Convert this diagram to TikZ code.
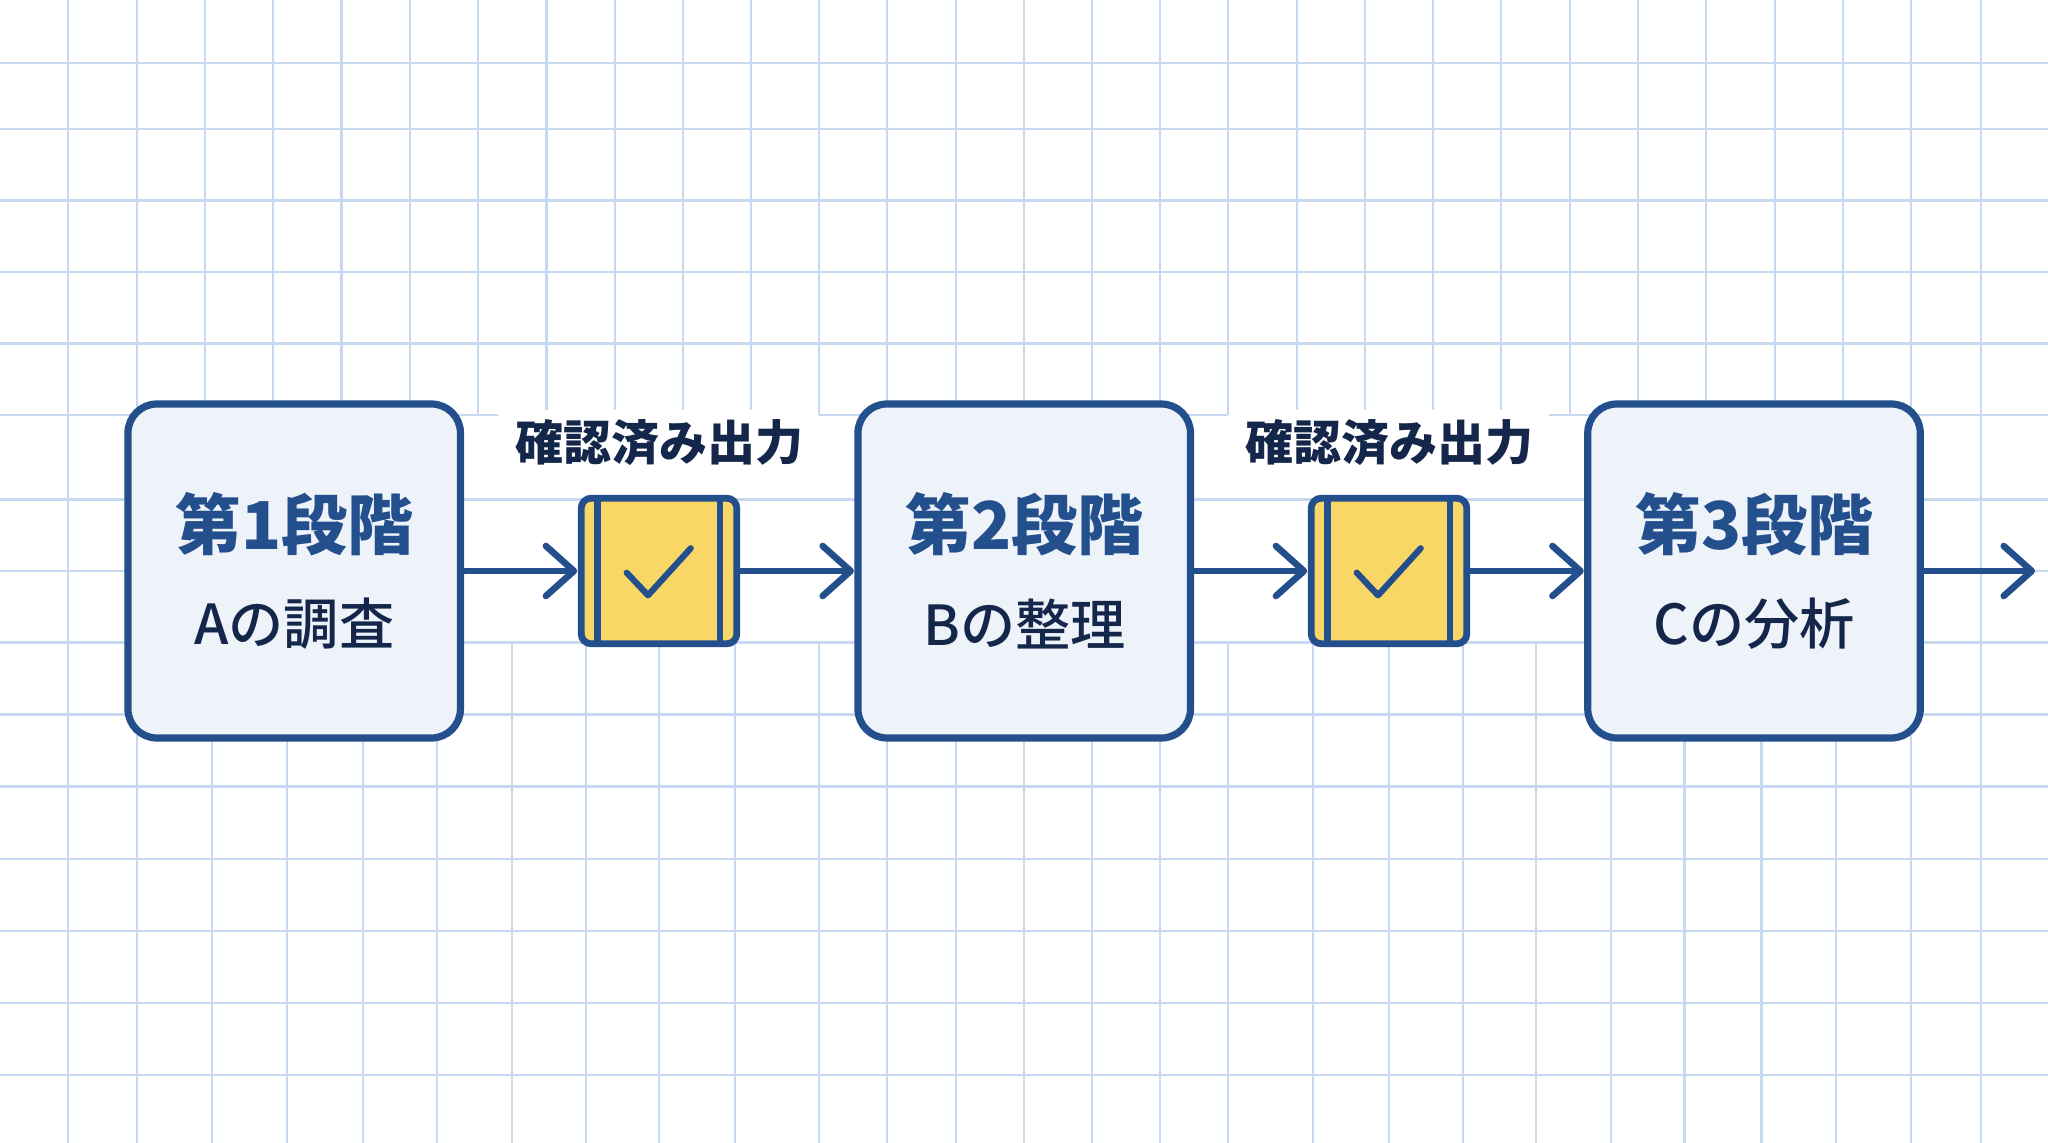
\documentclass[tikz,border=0pt]{standalone}
\usepackage{fontspec}
\newfontfamily\jp{Noto Sans CJK JP}
\newfontfamily\jpm{Noto Sans CJK JP Medium}
\usetikzlibrary{arrows.meta,calc}
\definecolor{gridc}{HTML}{C6D9F0}
\definecolor{navy}{HTML}{234F8C}
\definecolor{ink}{HTML}{14274A}
\definecolor{panel}{HTML}{EEF3FA}
\definecolor{gold}{HTML}{F9D766}
\tikzset{
  gridv/.style={draw=gridc,line width=1.1pt},
  gridh/.style={draw=gridc,line width=1.4pt},
  stage/.style={draw=navy,fill=panel,line width=3.6pt,rectangle,rounded corners=14.5pt,
    minimum width=166.25pt,minimum height=167pt,inner sep=0pt,outer sep=0pt},
  gate/.style={draw=navy,fill=gold,line width=3.4pt,rectangle,rounded corners=5pt,
    minimum width=77.8pt,minimum height=72.8pt,inner sep=0pt,outer sep=0pt},
  gatebar/.style={draw=navy,line width=3.3pt},
  tick/.style={draw=navy,line width=3.1pt,line cap=round,line join=round},
  titletext/.style={text=navy,inner sep=0pt,font=\jp\bfseries\fontsize{33pt}{36pt}\selectfont},
  subtext/.style={text=ink,inner sep=0pt,font=\jpm\fontsize{27.6pt}{30pt}\selectfont},
  gatetext/.style={text=ink,inner sep=0pt,font=\jp\bfseries\fontsize{24pt}{27pt}\selectfont},
  flow/.style={draw=navy,line width=3.3pt,line cap=round,
    -{Straight Barb[length=14pt,width=25pt,round,line width=3.3pt]}},
}
\begin{document}
\begin{tikzpicture}[x=0.5pt,y=-0.5pt]
\useasboundingbox[fill=white] (0,0) rectangle (2048,1143);
% grid: horizontal rules
\foreach \yy in {63,129,200.7,272,343.7,499.3,642.7,714.5,786.7,859,931,1003,1075}
  \draw[gridh] (0,\yy) -- (2048,\yy);
\draw[gridh] (0,415) -- (498,415);
\draw[gridh] (819,415) -- (1228,415);
\draw[gridh] (1549,415) -- (2048,415);
\draw[gridh] (0,571) -- (128,571);
\draw[gridh] (1920,571) -- (2048,571);
% grid: vertical rules
\foreach \xx in {68.3,1980.7} \draw[gridv] (\xx,0) -- (\xx,1143);
\foreach \xx in {136.6,204.9,273.2,341.5,409.8,887,955.7,1024,1092,1160,1638,1706,1775,1843,1911}
  \draw[gridv] (\xx,0) -- (\xx,410);
\foreach \xx in {477.7,819,1228,1570} \draw[gridv] (\xx,0) -- (\xx,415);
\foreach \xx in {546.4,614.7,683,751.3,1297,1365,1433,1501} \draw[gridv] (\xx,0) -- (\xx,410);
\foreach \xx in {137,212,287,363,437,887,955.7,1024,1092,1160,1611,1684.5,1761.5,1836,1911}
  \draw[gridv] (\xx,735) -- (\xx,1143);
\foreach \xx in {512,585.7,659,735,819,1228,1313,1389,1463,1536}
  \draw[gridv] (\xx,642.7) -- (\xx,1143);
% stages
\node[stage] (s1) at (294.2,571) {};
\node[stage] (s2) at (1024.2,571) {};
\node[stage] (s3) at (1754,571) {};
\node[titletext] (t1) at (294.4,524) {第1段階};
\node[titletext] (t2) at (1024.4,524) {第2段階};
\node[titletext] (t3) at (1754.2,524) {第3段階};
\node[subtext] (u1) at (294.4,624) {Aの調査};
\node[subtext] (u2) at (1024.4,624) {Bの整理};
\node[subtext] (u3) at (1754.2,624) {Cの分析};
% gates
\foreach \g/\cx in {g1/659,g2/1389}{
  \node[gate] (\g) at (\cx,571) {};
  \draw[gatebar] ($(\g.north)+(-61.7,0)$) -- ($(\g.south)+(-61.7,0)$);
  \draw[gatebar] ($(\g.north)+(61,0)$) -- ($(\g.south)+(61,0)$);
  \draw[tick] ($(\g.center)+(-32.3,1.7)$) -- ($(\g.center)+(-11,24.3)$) -- ($(\g.center)+(31.7,-22.7)$);
}
\node[gatetext] (l1) at (659,443) {確認済み出力};
\node[gatetext] (l2) at (1389,443) {確認済み出力};
% connectors
\coordinate (out) at (2035,571);
\draw[flow,shorten >=2pt] (s1.east) -- (g1.west);
\draw[flow,shorten >=2pt] (g1.east) -- (s2.west);
\draw[flow,shorten >=2pt] (s2.east) -- (g2.west);
\draw[flow,shorten >=2pt] (g2.east) -- (s3.west);
\draw[flow] (s3.east) -- (out);
\end{tikzpicture}
\end{document}
